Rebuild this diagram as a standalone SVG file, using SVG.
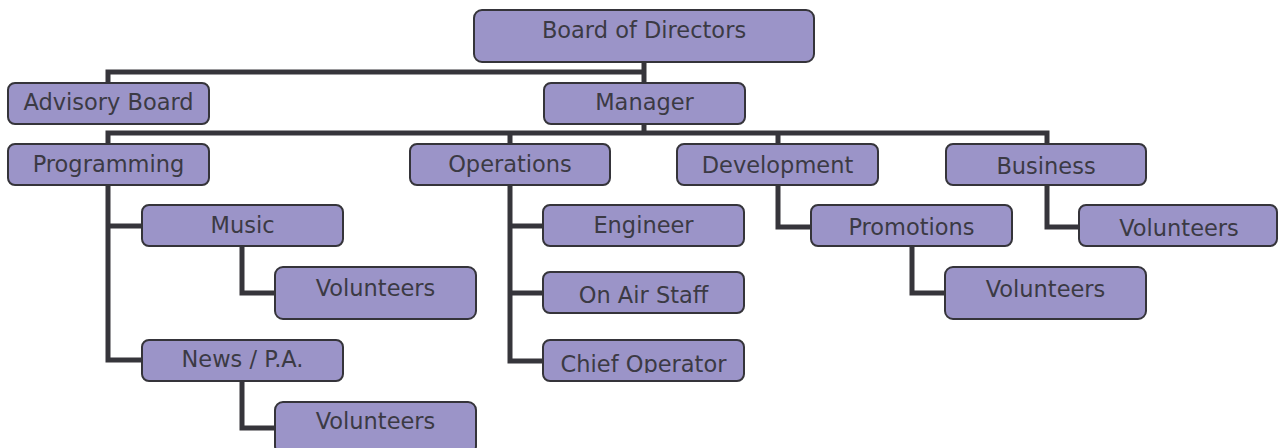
<svg xmlns="http://www.w3.org/2000/svg" width="1278" height="448" viewBox="0 0 1278 448">
<style>
.box{fill:#9b94c8;stroke:#35343a;stroke-width:2}
.t{font-family:"DejaVu Sans",Verdana,sans-serif;font-size:22.5px;fill:#3b3a44;text-anchor:middle}
.c{fill:none;stroke:#36353b;stroke-width:5}
</style>
<defs>
<clipPath id="clipChief"><rect x="543" y="340" width="202" height="33"/></clipPath>
</defs>
<rect width="1278" height="448" fill="#fff"/>
<g id="connectors">
<path class="c" d="M644 62V83M644 72H108V83"/>
<path class="c" d="M644 124V133M108 144V133H1047V144M510 133V144M778 133V144"/>
<path class="c" d="M108 185V360H142M108 226H142"/>
<path class="c" d="M242 246V293H275"/>
<path class="c" d="M242 381V428H275"/>
<path class="c" d="M510 185V361H543M510 226H543M510 293H543"/>
<path class="c" d="M778 185V227H811"/>
<path class="c" d="M912 246V293H945"/>
<path class="c" d="M1047 185V227H1079"/>
</g>
<g id="board"><rect class="box" x="474" y="10" width="340" height="52" rx="8"/><text class="t" x="644" y="38">Board of Directors</text></g>
<g id="advisory"><rect class="box" x="8" y="83" width="201" height="41" rx="7"/><text class="t" x="108.5" y="110">Advisory Board</text></g>
<g id="manager"><rect class="box" x="544" y="83" width="201" height="41" rx="7"/><text class="t" x="644.5" y="110">Manager</text></g>
<g id="programming"><rect class="box" x="8" y="144" width="201" height="41" rx="7"/><text class="t" x="108.5" y="172">Programming</text></g>
<g id="operations"><rect class="box" x="410" y="144" width="200" height="41" rx="7"/><text class="t" x="510" y="172">Operations</text></g>
<g id="development"><rect class="box" x="677" y="144" width="201" height="41" rx="7"/><text class="t" x="777.5" y="173">Development</text></g>
<g id="business"><rect class="box" x="946" y="144" width="200" height="41" rx="7"/><text class="t" x="1046" y="174">Business</text></g>
<g id="music"><rect class="box" x="142" y="205" width="201" height="41" rx="7"/><text class="t" x="242.5" y="233">Music</text></g>
<g id="music-volunteers"><rect class="box" x="275" y="267" width="201" height="52" rx="8"/><text class="t" x="375.5" y="296">Volunteers</text></g>
<g id="news"><rect class="box" x="142" y="340" width="201" height="41" rx="7"/><text class="t" x="242.5" y="367">News / P.A.</text></g>
<g id="news-volunteers"><rect class="box" x="275" y="402" width="201" height="52" rx="8"/><text class="t" x="375.5" y="429">Volunteers</text></g>
<g id="engineer"><rect class="box" x="543" y="205" width="201" height="41" rx="7"/><text class="t" x="643.5" y="233">Engineer</text></g>
<g id="onair"><rect class="box" x="543" y="272" width="201" height="41" rx="7"/><text class="t" x="643.5" y="303">On Air Staff</text></g>
<g id="chief"><rect class="box" x="543" y="340" width="201" height="41" rx="7"/><text class="t" x="643.5" y="372" clip-path="url(#clipChief)">Chief Operator</text></g>
<g id="promotions"><rect class="box" x="811" y="205" width="201" height="41" rx="7"/><text class="t" x="911.5" y="235">Promotions</text></g>
<g id="promotions-volunteers"><rect class="box" x="945" y="267" width="201" height="52" rx="8"/><text class="t" x="1045.5" y="297">Volunteers</text></g>
<g id="business-volunteers"><rect class="box" x="1079" y="205" width="198" height="41" rx="7"/><text class="t" x="1179" y="236">Volunteers</text></g>
</svg>
